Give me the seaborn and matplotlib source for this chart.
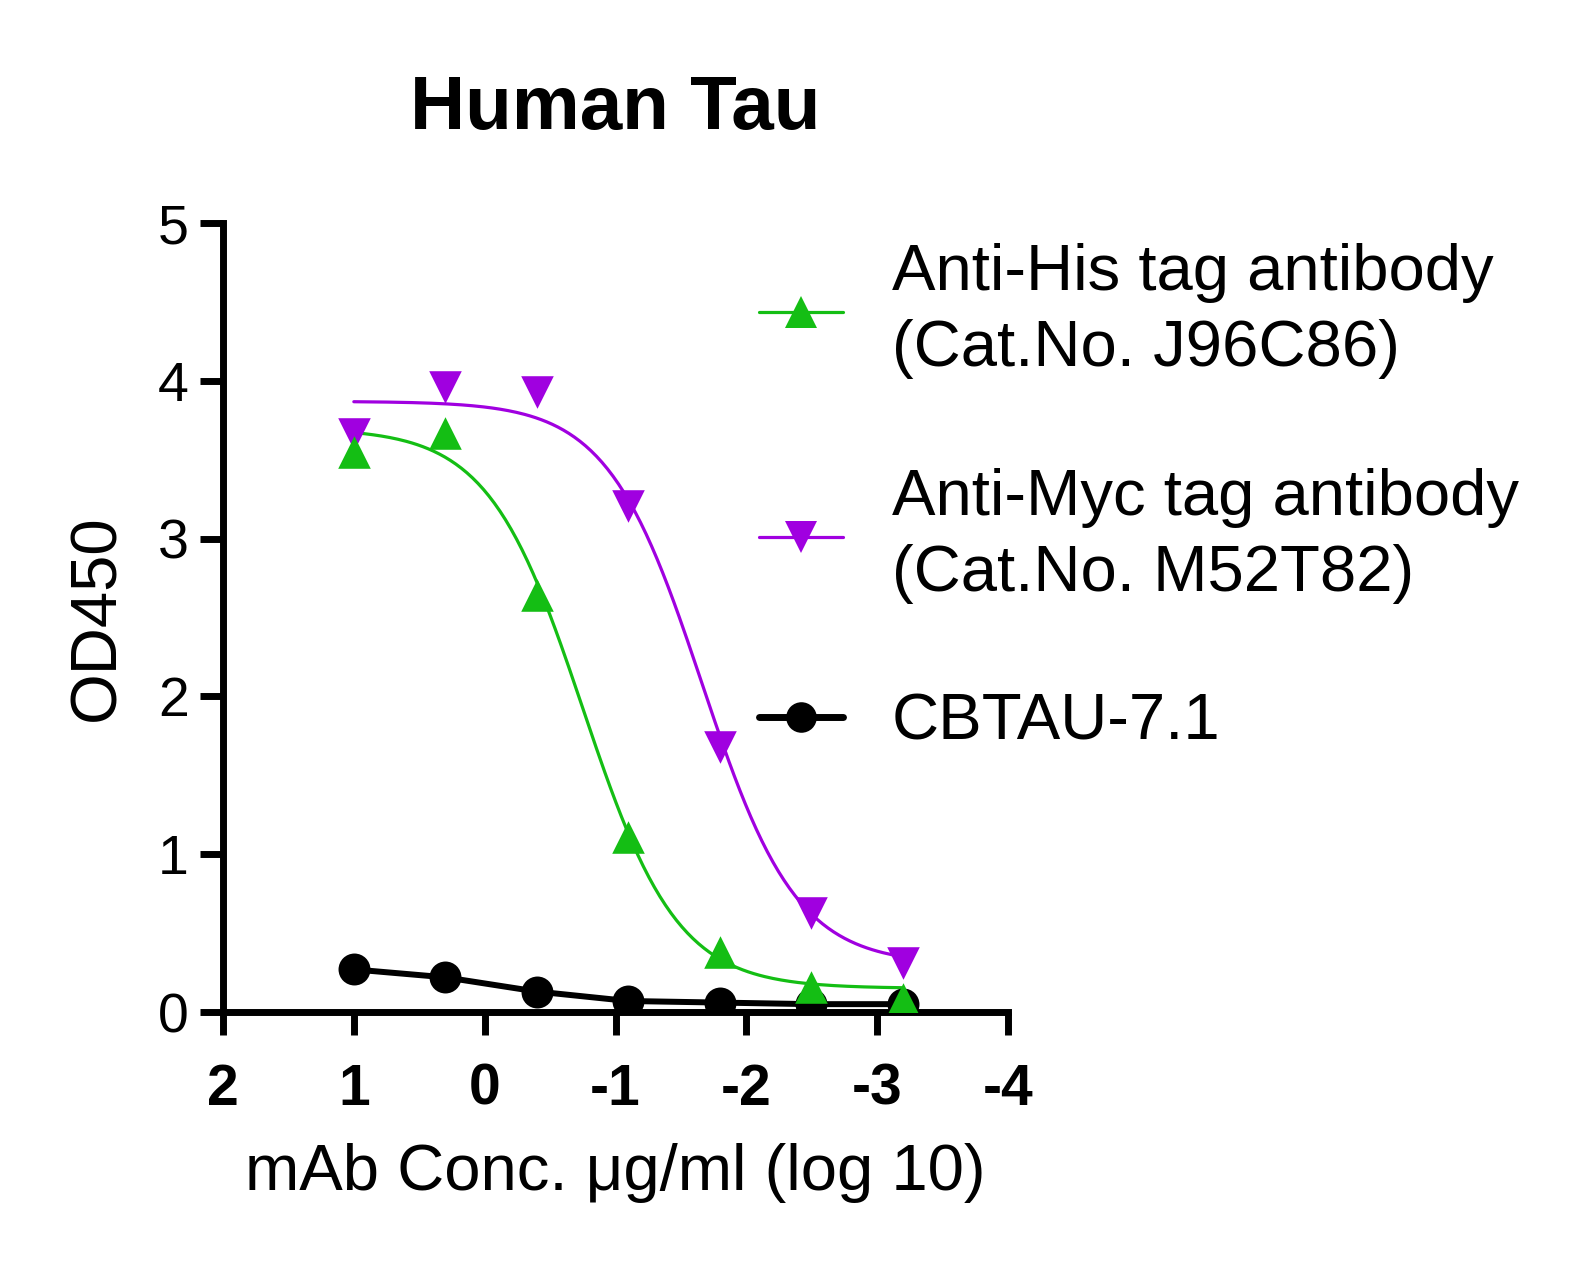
import numpy as np
import pandas as pd
import matplotlib
matplotlib.use('Agg')
import matplotlib.pyplot as plt
from matplotlib.lines import Line2D
import seaborn as sns

# === DATA ===
log_conc = [1.0, 0.301, -0.398, -1.097, -1.796, -2.495, -3.194]
od_his = [3.55, 3.67, 2.64, 1.11, 0.38, 0.16, 0.08]
od_myc = [3.66, 3.96, 3.93, 3.21, 1.68, 0.63, 0.31]
od_cbtau = [0.27, 0.22, 0.13, 0.07, 0.06, 0.05, 0.05]

# 4PL fit parameters (top, bottom, logEC50, hill) estimated from the fitted curves
fit_his = (3.70, 0.15, -0.75, 1.2)
fit_myc = (3.87, 0.30, -1.66, 1.2)

labels = ['Anti-His tag antibody\n(Cat.No. J96C86)',
          'Anti-Myc tag antibody\n(Cat.No. M52T82)',
          'CBTAU-7.1']
green = '#14BE14'
purple = '#A000E0'
black = '#000000'

xticks = [2, 1, 0, -1, -2, -3, -4]
yticks = [0, 1, 2, 3, 4, 5]


def four_pl(x, p):
    top, bottom, ec50, hill = p
    return bottom + (top - bottom) / (1 + 10 ** ((ec50 - x) * hill))


xs = np.linspace(max(log_conc), min(log_conc), 200)
df_fit = pd.DataFrame({
    'x': np.concatenate([xs, xs]),
    'y': np.concatenate([four_pl(xs, fit_his), four_pl(xs, fit_myc)]),
    'series': ['his'] * len(xs) + ['myc'] * len(xs),
})
df_pts = pd.DataFrame({'x': log_conc, 'his': od_his, 'myc': od_myc, 'cbtau': od_cbtau})

# === STYLE ===
sns.set_style('ticks')
plt.rcParams['font.family'] = ['Liberation Sans', 'DejaVu Sans']
for k in ['text.color', 'axes.labelcolor', 'xtick.color', 'ytick.color', 'axes.edgecolor']:
    plt.rcParams[k] = 'black'

fig = plt.figure(figsize=(15.77, 12.63), dpi=100)
ax = fig.add_axes([0.1414, 0.1987, 0.4978, 0.6247])

# fitted curves
sns.lineplot(data=df_fit, x='x', y='y', hue='series', palette={'his': green, 'myc': purple},
             linewidth=2.3, legend=False, ax=ax, sort=False)
# CBTAU connected line
sns.lineplot(data=df_pts, x='x', y='cbtau', color=black, linewidth=4.3, ax=ax, sort=False,
             marker='o', markersize=23, markeredgewidth=0)
# points
sns.scatterplot(data=df_pts, x='x', y='myc', marker='v', color=purple, s=550, linewidth=0, ax=ax, zorder=4)
sns.scatterplot(data=df_pts, x='x', y='his', marker='^', color=green, s=550, linewidth=0, ax=ax, zorder=5)

ax.set_xlim(2, -4)
ax.set_ylim(0, 5)
ax.set_xticks(xticks)
ax.set_yticks(yticks)
ax.set_xticklabels([str(t) for t in xticks], fontsize=41, fontweight='bold')
ax.set_yticklabels([str(t) for t in yticks], fontsize=40)
ax.tick_params(axis='both', length=16.5, width=5, direction='out', color='black')
ax.tick_params(axis='x', pad=20)
ax.tick_params(axis='y', pad=8)
for s in ['left', 'bottom']:
    ax.spines[s].set_linewidth(5)
sns.despine(ax=ax)
for sp in ax.spines.values():
    sp.set_clip_on(False)

ax.set_xlabel('mAb Conc. \u03bcg/ml (log 10)', fontsize=47, labelpad=19)
ax.set_ylabel('OD450', fontsize=47, labelpad=22)
ax.set_title('Human Tau', fontsize=55, fontweight='bold', pad=68)

handles = [
    Line2D([], [], color=green, lw=2.3, marker='^', markersize=23, markeredgewidth=0),
    Line2D([], [], color=purple, lw=2.3, marker='v', markersize=23, markeredgewidth=0),
    Line2D([], [], color=black, lw=5, marker='o', markersize=22, markeredgewidth=0),
]
leg = ax.legend(handles, labels, loc='upper left', bbox_to_anchor=(0.4813, 0.8075),
                bbox_transform=fig.transFigure, frameon=False, fontsize=47,
                handlelength=1.29, handletextpad=0.74, labelspacing=1.36,
                borderpad=0, borderaxespad=0)
for t in leg.get_texts():
    t.set_linespacing(1.34)

fig.savefig('out.png', dpi=100, facecolor='white')
